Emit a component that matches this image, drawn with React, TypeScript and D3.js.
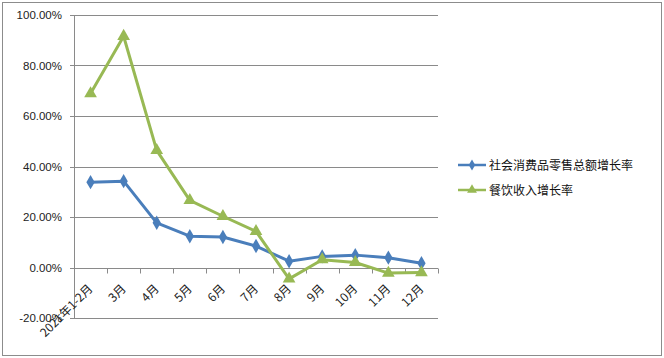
import React, { useEffect, useRef } from 'react';
import * as d3 from 'd3';

const months = ['2021年1-2月', '3月', '4月', '5月', '6月', '7月', '8月', '9月', '10月', '11月', '12月'];
const retailGrowth = [33.8, 34.2, 17.7, 12.4, 12.1, 8.5, 2.5, 4.4, 4.9, 3.9, 1.7];
const cateringGrowth = [68.9, 91.6, 46.4, 26.6, 20.3, 14.3, -4.5, 3.1, 2.0, -2.2, -2.0];
const seriesNames = ['社会消费品零售总额增长率', '餐饮收入增长率'];
const yTicks = [-20, 0, 20, 40, 60, 80, 100];

const App: React.FC = () => {
  const svgRef = useRef<SVGSVGElement>(null);

  useEffect(() => {
    const width = 664;
    const height = 358;
    const svg = d3.select(svgRef.current).attr('width', width).attr('height', height);
    svg.selectAll('*').remove();

    const fontCn = '"Noto Sans CJK SC", "Noto Sans", sans-serif';
    const fontNum = '"Liberation Sans", "DejaVu Sans", sans-serif';

    svg.append('rect')
      .attr('x', 2.5).attr('y', 2.5)
      .attr('width', 659).attr('height', 353)
      .attr('fill', '#fff').attr('stroke', '#8c8c8c');

    const left = 74;
    const right = 438;
    const x = d3.scaleBand<string>().domain(months).range([left, right]);
    const y = d3.scaleLinear().domain([-20, 100]).range([318, 15]);

    // grid
    svg.append('g').selectAll('line').data(yTicks).enter().append('line')
      .attr('x1', left - 4).attr('x2', right)
      .attr('y1', (d) => Math.round(y(d)) + 0.5).attr('y2', (d) => Math.round(y(d)) + 0.5)
      .attr('stroke', '#8a8a8a');

    svg.append('line')
      .attr('x1', left + 0.5).attr('x2', left + 0.5)
      .attr('y1', y(100)).attr('y2', y(-20))
      .attr('stroke', '#8a8a8a');

    svg.append('g').selectAll('text').data(yTicks).enter().append('text')
      .attr('x', 62).attr('y', (d) => y(d) + 4)
      .attr('text-anchor', 'end')
      .attr('font-family', fontNum).attr('font-size', 11.5)
      .attr('fill', '#222')
      .text((d) => d.toFixed(2) + '%');

    // x axis at zero
    const y0 = Math.round(y(0)) + 0.5;
    const tickXs = months.map((m) => x(m) as number).concat([right]);
    svg.append('g').selectAll('line').data(tickXs).enter().append('line')
      .attr('x1', (d) => Math.round(d) + 0.5).attr('x2', (d) => Math.round(d) + 0.5)
      .attr('y1', y0).attr('y2', y0 + 5)
      .attr('stroke', '#8a8a8a');

    const bw = x.bandwidth();
    svg.append('g').selectAll('text').data(months).enter().append('text')
      .attr('transform', (d) => `translate(${(x(d) as number) + bw / 2 + 3},${y0 + 21}) rotate(-45)`)
      .attr('text-anchor', 'end')
      .attr('font-family', fontCn).attr('font-size', 12)
      .attr('fill', '#222')
      .text((d) => d);

    const series = [
      { values: retailGrowth, color: '#4a7ebb', marker: d3.symbolDiamond, size: 60 },
      { values: cateringGrowth, color: '#98b954', marker: d3.symbolTriangle, size: 70 },
    ];

    const line = d3.line<number>()
      .x((_, i) => (x(months[i]) as number) + bw / 2)
      .y((d) => y(d));

    series.forEach((s) => {
      svg.append('path')
        .datum(s.values)
        .attr('d', line)
        .attr('fill', 'none')
        .attr('stroke', s.color)
        .attr('stroke-width', 3)
        .attr('stroke-linejoin', 'round');
      svg.append('g').selectAll('path').data(s.values).enter().append('path')
        .attr('d', d3.symbol().type(s.marker).size(s.size)())
        .attr('transform', (d, i) => `translate(${(x(months[i]) as number) + bw / 2},${y(d)})`)
        .attr('fill', s.color);
    });

    // legend
    const legend = svg.append('g');
    series.forEach((s, i) => {
      const ly = 165 + i * 25;
      legend.append('line')
        .attr('x1', 458).attr('x2', 486).attr('y1', ly).attr('y2', ly)
        .attr('stroke', s.color).attr('stroke-width', 2.5);
      legend.append('path')
        .attr('d', d3.symbol().type(s.marker).size(s.size * 0.6)())
        .attr('transform', `translate(472,${ly})`)
        .attr('fill', s.color);
      legend.append('text')
        .attr('x', 489).attr('y', ly + 4.5)
        .attr('font-family', fontCn).attr('font-size', 12)
        .attr('fill', '#111')
        .text(seriesNames[i]);
    });
  }, []);

  return (
    <div style={{ position: 'absolute', left: 0, top: 0 }}>
      <svg ref={svgRef}></svg>
    </div>
  );
};

export default App;
